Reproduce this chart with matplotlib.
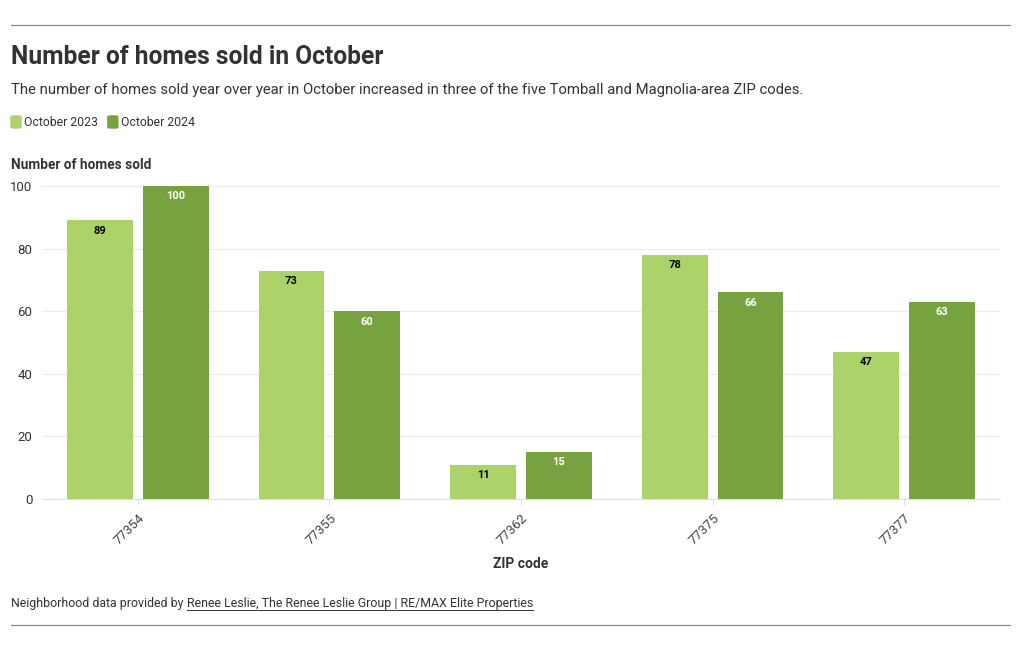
import numpy as np
import matplotlib.pyplot as plt
from matplotlib.patches import FancyBboxPatch

zips = ['77354', '77355', '77362', '77375', '77377']
oct_2023 = [89, 73, 11, 78, 47]
oct_2024 = [100, 60, 15, 66, 63]
series_names = ['October 2023', 'October 2024']

c23 = '#acd26a'
c24 = '#77a240'
txt = '#333333'

plt.rcParams['font.family'] = ['Roboto', 'DejaVu Sans']

W, H = 1020, 650
fig = plt.figure(figsize=(W / 100, H / 100), dpi=100)
renderer = fig.canvas.get_renderer()

def fx(px):
    return px / W

def fy(py):
    return 1 - py / H

def right_px(t):
    # right edge of a text artist in pixels from the left
    return t.get_window_extent(renderer=renderer).x1

ax = fig.add_axes([fx(42), fy(499), fx(1000) - fx(42), fy(186) - fy(499)])

x = np.arange(len(zips))
bw = 0.344
off = 0.198
b1 = ax.bar(x - off, oct_2023, bw, color=c23, zorder=2)
b2 = ax.bar(x + off, oct_2024, bw, color=c24, zorder=2)

for bars, vals, col in [(b1, oct_2023, 'black'), (b2, oct_2024, 'white')]:
    for b, v in zip(bars, vals):
        ax.annotate(str(v), (b.get_x() + b.get_width() / 2, v), xytext=(0, -7.5),
                    textcoords='offset points', ha='center', va='center',
                    fontsize=8, fontweight='bold', color=col, zorder=3)

ax.set_xlim(-0.5, len(zips) - 0.5)
ax.set_ylim(0, 100)
ax.set_yticks([0, 20, 40, 60, 80, 100])
ax.grid(axis='y', color='#ebebeb', linewidth=0.8, zorder=0)
for s in ['top', 'right', 'left']:
    ax.spines[s].set_visible(False)
ax.spines['bottom'].set_color('#e0e0e0')
ax.tick_params(axis='y', length=0, labelsize=9.5, labelcolor=txt, pad=7)
ax.tick_params(axis='x', length=4, color='#e0e0e0', labelsize=9.5, labelcolor='#444444', pad=5)
ax.set_xticks(x)
ax.set_xticklabels(zips, rotation=45, ha='right', rotation_mode='anchor')
ax.set_xlabel('ZIP code', fontsize=10, fontweight='bold', color=txt, labelpad=7)

# header and footer rules
fig.add_artist(plt.Line2D([fx(11), fx(1010)], [fy(25), fy(25)], color='#888888', lw=0.9))
fig.add_artist(plt.Line2D([fx(11), fx(1010)], [fy(625), fy(625)], color='#888888', lw=0.9))

fig.text(fx(11), fy(57), 'Number of homes sold in October', fontsize=17.7, fontweight='bold',
         color=txt, va='center')
fig.text(fx(11), fy(90), 'The number of homes sold year over year in October increased in three '
         'of the five Tomball and Magnolia-area ZIP codes.', fontsize=10.7, color=txt,
         va='center')

# legend
lx = 11
for name, col in zip(series_names, [c23, c24]):
    fig.add_artist(FancyBboxPatch((fx(lx), fy(128)), fx(10), fy(116) - fy(128),
                                  boxstyle='round,pad=0,rounding_size=0.002',
                                  transform=fig.transFigure, color=col))
    t = fig.text(fx(lx + 13), fy(122), name, fontsize=8.8, color=txt, va='center')
    lx = right_px(t) + 10

fig.text(fx(11), fy(165), 'Number of homes sold', fontsize=9.8, fontweight='bold', color=txt,
         va='center')

t1 = fig.text(fx(11), fy(603), 'Neighborhood data provided by ', fontsize=8.9, color=txt,
              va='center')
x2 = right_px(t1)
t2 = fig.text(fx(x2), fy(603), 'Renee Leslie, The Renee Leslie Group | RE/MAX Elite Properties',
              fontsize=8.9, color=txt, va='center')
fig.add_artist(plt.Line2D([fx(x2), fx(right_px(t2))], [fy(610), fy(610)], color=txt, lw=0.7))

fig.savefig('out.png', dpi=100)
